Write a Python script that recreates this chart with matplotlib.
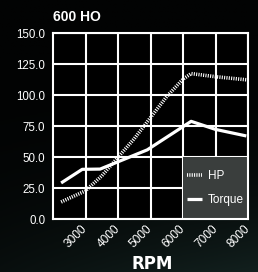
import matplotlib
matplotlib.use("Agg")
import matplotlib.pyplot as plt
import matplotlib.patches as patches
import numpy as np

# data
hp_rpm = [2250, 3000, 3500, 4000, 4500, 5000, 5500, 6000, 6250, 7000, 7950]
hp = [14, 23, 35, 50, 65, 82, 99, 113, 117.5, 115, 112.5]
tq_rpm = [2250, 2900, 3450, 4900, 6250, 7000, 7950]
torque = [29.3, 40.3, 40.5, 56, 79, 72.5, 67.2]

x_ticks = [3000, 4000, 5000, 6000, 7000, 8000]
y_ticks = [0, 25, 50, 75, 100, 125, 150]

tick_font = ["Liberation Sans", "DejaVu Sans"]

fig = plt.figure(figsize=(2.58, 2.72), dpi=100)
fig.patch.set_facecolor("#030505")

# dark photo-like backdrop
bg = fig.add_axes([0, 0, 1, 1], zorder=-10)
yy, xx = np.mgrid[0:1:200j, 0:1:200j]
shade = np.clip((1 - yy) ** 3 * (0.4 + 0.6 * xx), 0, 1)
bg.imshow(shade, aspect="auto", origin="lower", extent=[0, 1, 0, 1],
          cmap=matplotlib.colors.LinearSegmentedColormap.from_list("bg", ["#020303", "#12201e"]))
bg.axis("off")

ax = fig.add_axes([53 / 258, 1 - 219.3 / 272, 195 / 258, 186 / 272])
ax.set_facecolor("#000000")

ax.plot(hp_rpm, hp, color="white", lw=2.6, linestyle=(0, (0.3, 0.35)),
        dash_capstyle="butt", label="HP", zorder=3)
ax.plot(tq_rpm, torque, color="white", lw=2.3, solid_capstyle="butt",
        label="Torque", zorder=3)

ax.set_xlim(2000, 8000)
ax.set_ylim(0, 150)
ax.set_xticks(x_ticks)
ax.set_yticks(y_ticks)
ax.set_yticklabels([f"{v:.1f}" for v in y_ticks])
ax.grid(True, color="white", lw=1.5)
ax.set_axisbelow(True)
for s in ax.spines.values():
    s.set_color("white")
    s.set_linewidth(1.5)

ax.tick_params(length=0, colors="white")
for lab in ax.get_yticklabels():
    lab.set_family(tick_font)
    lab.set_fontsize(8.3)
ax.tick_params(axis="y", pad=5.5)
ax.tick_params(axis="x", pad=5.5)
for lab in ax.get_xticklabels():
    lab.set_family(tick_font)
    lab.set_fontsize(8.6)
    lab.set_rotation(45)
    lab.set_ha("right")
    lab.set_va("center")
    lab.set_rotation_mode("anchor")

# legend box fills the lower-right grid cells
box = patches.Rectangle((6000, 0), 2000, 50, facecolor="#3a3e3d", edgecolor="none", zorder=2.5)
ax.add_patch(box)
leg = ax.legend(loc="center", bbox_to_anchor=(7000, 25), bbox_transform=ax.transData,
                frameon=False, handlelength=1.3, handletextpad=0.5, labelspacing=1.0,
                prop={"family": tick_font, "size": 8.5})
for t in leg.get_texts():
    t.set_color("white")

fig.text(53 / 258, 1 - 17 / 272, "600 HO", color="white", fontsize=10,
         fontweight="bold", va="center", ha="left", family=["Liberation Sans", "DejaVu Sans"])
fig.text(152 / 258, 1 - 264 / 272, "RPM", color="white", fontsize=12,
         fontweight="bold", va="center", ha="center", family=["DejaVu Sans"])

fig.savefig("out.png", dpi=100, facecolor=fig.get_facecolor())
